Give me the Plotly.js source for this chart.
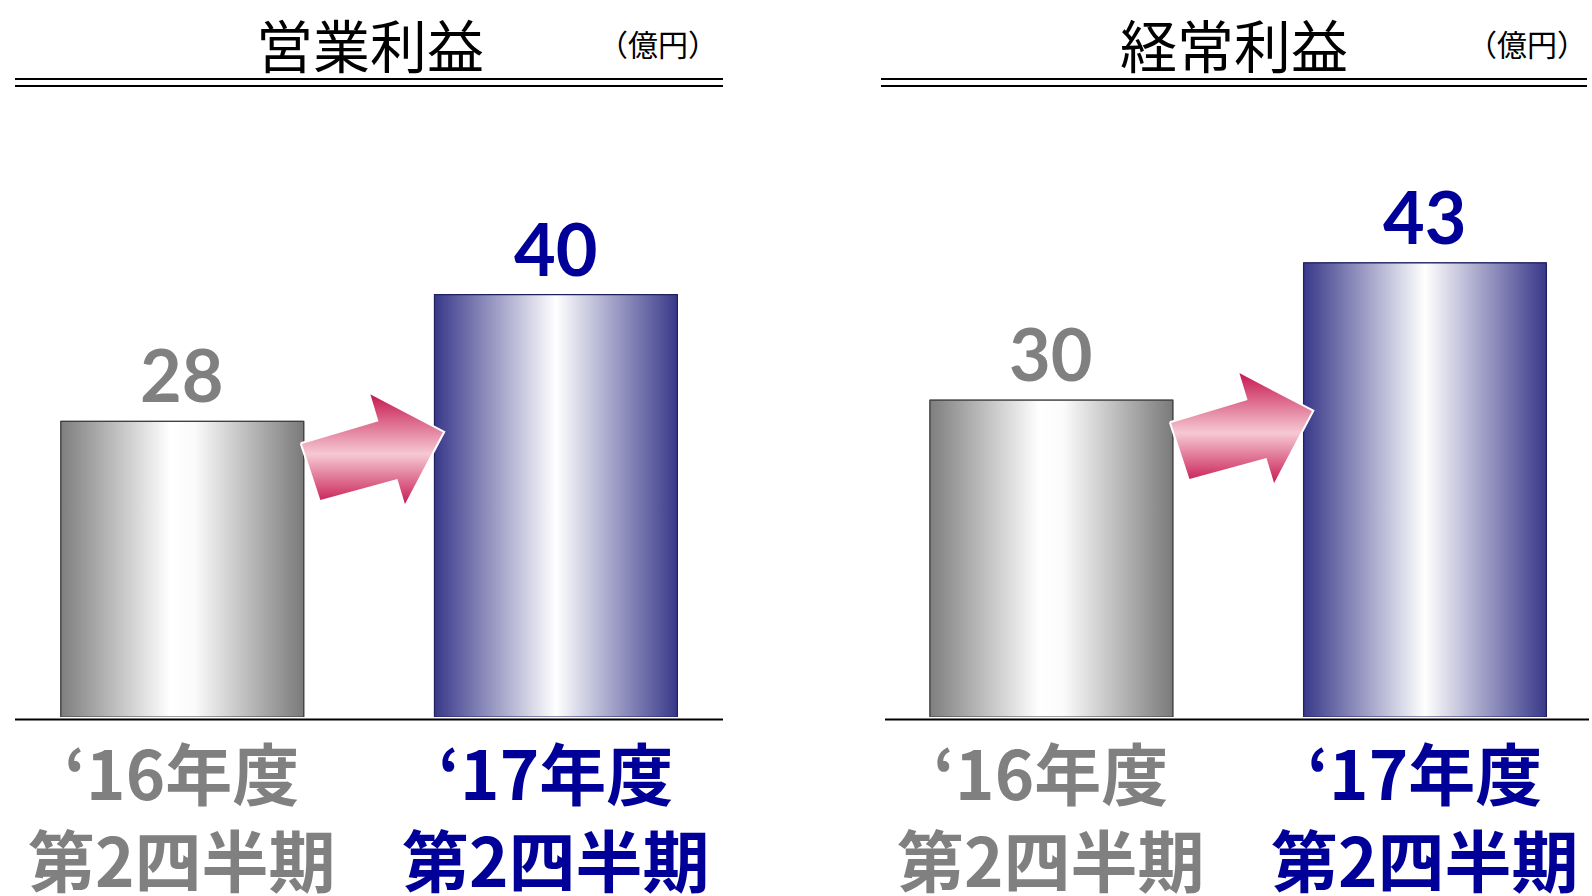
<!DOCTYPE html>
<html><head><meta charset="utf-8">
<script src="https://cdn.plot.ly/plotly-3.0.1.min.js"></script>
<style>html,body{margin:0;padding:0;background:#fff}#chart{width:1592px;height:896px}</style>
</head><body><div id="chart"></div>
<script>
// ---- data ----
const fiscalYears = ['‘16年度', '‘17年度'];
const quarterLabels = ['第2四半期', '第2四半期'];
const panelTitles = ['営業利益', '経常利益'];
const unitLabel = '（億円）';
const operatingProfit = [28, 40];
const ordinaryProfit = [30, 43];
const panelValues = [operatingProfit, ordinaryProfit];
const categoryIndex = [0, 1];

// ---- layout geometry (pixels) ----
const W = 1592, H = 896;
const BASE_PX = 717, TOP_PX = 100, PX_PER_UNIT = 10.56, UNIT = 373.6, BAR_W = 0.65;
const panels = [
  {left: 15, right: 723, cat0: 182.3, lineL: 15, lineR: 723, baseL: 15, baseR: 723},
  {left: 885, right: 1589, cat0: 1051.4, lineL: 881, lineR: 1587, baseL: 885, baseR: 1589}
];
const yDomain = [(H - BASE_PX) / H, (H - TOP_PX) / H];
const yRange = [0, (BASE_PX - TOP_PX) / PX_PER_UNIT];
const textColors = ['#808080', '#000099'];
const barScales = [
  [[0, '#7e7e7e'], [0.45, '#ffffff'], [0.55, '#fbfbfb'], [1, '#7a7a7a']],
  [[0, '#38388a'], [0.5, '#ffffff'], [1, '#38388a']]
];
const barEdge = ['#404040', '#202060'];
const arrowScale = [[0, '#c5124b'], [0.46, '#f6c9d5'], [1, '#c5124b']];
// arrow outline template: pixel offsets from the first bar's top-right corner
const arrowTpl = [[-3, 22], [16, 80], [93, 59], [101, 85.5], [140.5, 10.5], [65, -29], [73.5, -0.8], [-3, 22]];

const traces = [];
const annotations = [];
const shapes = [];
const layout = {
  width: W, height: H, margin: {l: 0, r: 0, t: 0, b: 0},
  paper_bgcolor: '#ffffff', plot_bgcolor: 'rgba(0,0,0,0)',
  showlegend: false, hovermode: false,
  annotations, shapes
};

panels.forEach((p, k) => {
  const xa = k === 0 ? 'x' : 'x2', ya = k === 0 ? 'y' : 'y2';
  const xKey = k === 0 ? 'xaxis' : 'xaxis2', yKey = k === 0 ? 'yaxis' : 'yaxis2';
  layout[xKey] = {
    domain: [p.left / W, p.right / W],
    range: [(p.left - p.cat0) / UNIT, (p.right - p.cat0) / UNIT],
    showgrid: false, zeroline: false, showticklabels: false, showline: false, ticks: '',
    anchor: ya, fixedrange: true
  };
  layout[yKey] = {
    domain: yDomain, range: yRange, showgrid: false, zeroline: false,
    showticklabels: false, showline: false, ticks: '', anchor: xa, fixedrange: true
  };
  const vals = panelValues[k];
  categoryIndex.forEach((c, i) => {
    traces.push({
      type: 'bar', x: [c], y: [vals[i]], width: BAR_W, xaxis: xa, yaxis: ya,
      marker: {color: barScales[i][0][1], line: {color: barEdge[i], width: 1}},
      hoverinfo: 'skip'
    });
    const x0 = c - BAR_W / 2, x1 = c + BAR_W / 2;
    traces.push({
      type: 'scatter', mode: 'lines', xaxis: xa, yaxis: ya,
      x: [x0, x1, x1, x0, x0], y: [0, 0, vals[i], vals[i], 0],
      fill: 'toself', fillgradient: {type: 'horizontal', colorscale: barScales[i]},
      line: {color: barEdge[i], width: 1.2}, hoverinfo: 'skip'
    });
    annotations.push({
      xref: xa, yref: ya, x: c, y: vals[i], yanchor: 'bottom', xanchor: 'center',
      yshift: 2, text: String(vals[i]), showarrow: false,
      font: {family: 'Lato, "Open Sans", sans-serif', size: 72, weight: 700, color: textColors[i]}
    });
    annotations.push({
      xref: xa, yref: 'paper', x: c, y: (H - 814) / H, yanchor: 'middle', xanchor: 'center',
      text: fiscalYears[i] + '<br>' + quarterLabels[i], showarrow: false,
      font: {family: '"Noto Sans CJK JP", sans-serif', size: 67, weight: 700, color: textColors[i]}
    });
  });
  const ax = BAR_W / 2, ay = vals[0];
  traces.push({
    type: 'scatter', mode: 'lines', xaxis: xa, yaxis: ya,
    x: arrowTpl.map(q => ax + q[0] / UNIT), y: arrowTpl.map(q => ay - q[1] / PX_PER_UNIT),
    fill: 'toself', fillgradient: {type: 'vertical', colorscale: arrowScale},
    line: {color: '#ffffff', width: 2}, hoverinfo: 'skip'
  });
  annotations.push({
    xref: 'paper', yref: 'paper', x: (k === 0 ? 370 : 1234) / W, y: (H - 43) / H,
    xanchor: 'center', yanchor: 'middle', text: panelTitles[k], showarrow: false,
    font: {family: '"Noto Sans CJK JP", sans-serif', size: 57, color: '#000000'}
  });
  annotations.push({
    xref: 'paper', yref: 'paper', x: (k === 0 ? 658 : 1527) / W, y: (H - 43) / H,
    xanchor: 'center', yanchor: 'middle', text: unitLabel, showarrow: false,
    font: {family: '"Noto Sans CJK JP", sans-serif', size: 30, color: '#000000'}
  });
  [79, 86].forEach(py => shapes.push({
    type: 'line', xref: 'paper', yref: 'paper', x0: p.lineL / W, x1: p.lineR / W,
    y0: (H - py) / H, y1: (H - py) / H, line: {color: '#000000', width: 2}
  }));
  shapes.push({
    type: 'line', xref: 'paper', yref: 'paper', x0: p.baseL / W, x1: p.baseR / W,
    y0: (H - 719.5) / H, y1: (H - 719.5) / H, line: {color: '#000000', width: 2}
  });
});

Plotly.newPlot('chart', traces, layout, {staticPlot: true, displayModeBar: false});
</script>
</body></html>
